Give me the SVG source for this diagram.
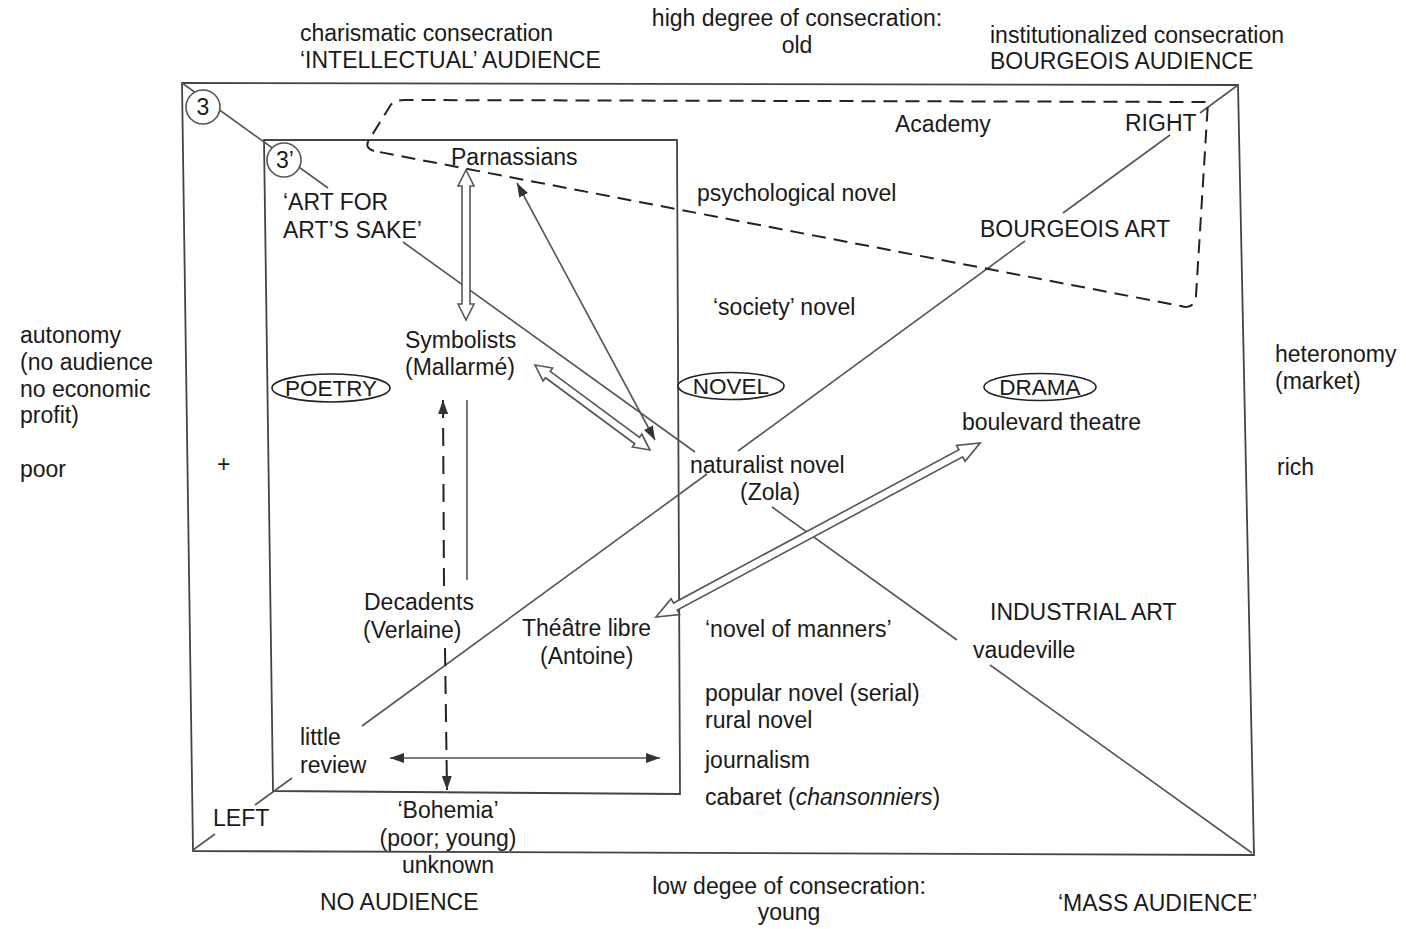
<svg xmlns="http://www.w3.org/2000/svg" width="1406" height="929" viewBox="0 0 1406 929">
<defs>
<style>
text{font-family:"Liberation Sans",Arial,sans-serif;font-size:23px;fill:#1a1a1a}
.m{text-anchor:middle}
.ov{font-size:22.5px}
.box{fill:none;stroke:#444;stroke-width:1.8}
.ln{fill:none;stroke:#555;stroke-width:1.6}
.dash{fill:none;stroke:#222;stroke-width:2;stroke-dasharray:14 8}
.vdash{fill:none;stroke:#222;stroke-width:2;stroke-dasharray:18 10}
.hollow{fill:#fff;stroke:#555;stroke-width:1.6;stroke-linejoin:miter}
.thin{fill:none;stroke:#555;stroke-width:1.6}
.oval{fill:#fff;stroke:#222;stroke-width:1.6}
.circ{fill:#fff;stroke:#555;stroke-width:1.6}
</style>
<marker id="ah" markerUnits="userSpaceOnUse" markerWidth="14" markerHeight="10" refX="14" refY="5" orient="auto-start-reverse">
<path d="M0,0 L14,5 L0,10 Z" fill="#333"/>
</marker>
</defs>
<rect width="1406" height="929" fill="#fff"/>

<g id="frames">
<polygon class="box" points="182,83 1238,85 1254,855 193,851"/>
<polygon class="box" points="264,140 677,140 680,794 273,791"/>
</g>

<g id="connectors">
<line class="ln" x1="182" y1="83" x2="328" y2="188"/>
<line class="ln" x1="403" y1="242" x2="695" y2="452"/>
<line class="ln" x1="772" y1="507" x2="957" y2="640"/>
<line class="ln" x1="990" y1="665" x2="1252" y2="853"/>
<line class="ln" x1="193" y1="850" x2="215" y2="834"/>
<line class="ln" x1="255" y1="805" x2="292" y2="778"/>
<line class="ln" x1="362" y1="726" x2="707" y2="474"/>
<line class="ln" x1="738" y1="451" x2="1025" y2="241"/>
<line class="ln" x1="1063" y1="213" x2="1170" y2="135"/>
<line class="ln" x1="1200" y1="113" x2="1238" y2="85"/>
<path class="dash" d="M374,151 Q364,148 369,140 L390,106 Q394,100 404,100 L1208,102 L1196,296 Q1194,310 1181,306 Z"/>
<polygon class="hollow" transform="translate(466,170) rotate(90)" points="0,0 16,-8 16,-4 134,-4 134,-8 150,0 134,8 134,4 16,4 16,8"/>
<polygon class="hollow" transform="translate(535,365) rotate(36.5)" points="0,0 16,-8 16,-4 127,-4 127,-8 143,0 127,8 127,4 16,4 16,8"/>
<polygon class="hollow" transform="translate(656,617) rotate(-28.24)" points="0,0 22,-9 22,-4 346,-4 346,-9 368,0 346,9 346,4 22,4 22,9"/>
<line class="thin" x1="517" y1="183" x2="655" y2="440" marker-start="url(#ah)" marker-end="url(#ah)"/>
<line class="thin" x1="467" y1="400" x2="467" y2="580"/>
<line class="vdash" x1="443" y1="400" x2="444" y2="588" marker-start="url(#ah)"/>
<line class="vdash" x1="445" y1="648" x2="447" y2="790" marker-end="url(#ah)"/>
<line class="thin" x1="390" y1="758" x2="660" y2="758" marker-start="url(#ah)" marker-end="url(#ah)"/>
</g>

<g id="n-circle3"><circle class="circ" cx="203" cy="107" r="17"/><text class="m" x="203" y="115">3</text></g>
<g id="n-circle3p"><circle class="circ" cx="284" cy="160" r="17"/><text class="m" x="285" y="168">3’</text></g>

<g id="n-top-left"><text x="300" y="41">charismatic consecration</text><text x="300" y="68">‘INTELLECTUAL’ AUDIENCE</text></g>
<g id="n-top-mid"><text class="m" x="797" y="26">high degree of consecration:</text><text class="m" x="797" y="53">old</text></g>
<g id="n-top-right"><text x="990" y="43">institutionalized consecration</text><text x="990" y="69">BOURGEOIS AUDIENCE</text></g>

<g id="n-autonomy"><text x="20" y="343">autonomy</text><text x="20" y="370">(no audience</text><text x="20" y="397">no economic</text><text x="20" y="423">profit)</text></g>
<g id="n-poor"><text x="20" y="477">poor</text></g>
<g id="n-plus"><text x="217" y="472">+</text></g>
<g id="n-heteronomy"><text x="1275" y="362">heteronomy</text><text x="1275" y="389">(market)</text></g>
<g id="n-rich"><text x="1277" y="475">rich</text></g>

<g id="n-no-audience"><text x="320" y="910">NO AUDIENCE</text></g>
<g id="n-low"><text class="m" x="789" y="894">low degee of consecration:</text><text class="m" x="789" y="920">young</text></g>
<g id="n-mass"><text x="1058" y="911">‘MASS AUDIENCE’</text></g>

<g id="n-academy"><text x="895" y="132">Academy</text></g>
<g id="n-right"><text x="1125" y="131">RIGHT</text></g>
<g id="n-parnassians"><text x="451" y="165">Parnassians</text></g>
<g id="n-artforart"><text x="283" y="210">‘ART FOR</text><text x="283" y="238">ART’S SAKE’</text></g>
<g id="n-psych"><text x="697" y="201">psychological novel</text></g>
<g id="n-bourgeois-art"><text x="980" y="237">BOURGEOIS ART</text></g>
<g id="n-society"><text x="713" y="315">‘society’ novel</text></g>
<g id="n-symbolists"><text x="405" y="348">Symbolists</text><text x="405" y="375">(Mallarmé)</text></g>
<g id="n-poetry"><ellipse class="oval" cx="331" cy="388" rx="59" ry="14"/><text class="m ov" x="331" y="396">POETRY</text></g>
<g id="n-novel"><ellipse class="oval" cx="731" cy="386" rx="53" ry="13.5"/><text class="m ov" x="731" y="394">NOVEL</text></g>
<g id="n-drama"><ellipse class="oval" cx="1040" cy="387" rx="56" ry="13.5"/><text class="m ov" x="1040" y="395">DRAMA</text></g>
<g id="n-boulevard"><text x="962" y="430">boulevard theatre</text></g>
<g id="n-naturalist"><text x="690" y="473">naturalist novel</text><text x="740" y="500">(Zola)</text></g>
<g id="n-industrial"><text x="990" y="620">INDUSTRIAL ART</text></g>
<g id="n-vaudeville"><text x="973" y="658">vaudeville</text></g>
<g id="n-manners"><text x="705" y="637">‘novel of manners’</text></g>
<g id="n-decadents"><text x="364" y="610">Decadents</text><text x="363" y="638">(Verlaine)</text></g>
<g id="n-theatre"><text x="522" y="636">Théâtre libre</text><text x="540" y="664">(Antoine)</text></g>
<g id="n-popular"><text x="705" y="701">popular novel (serial)</text><text x="705" y="728">rural novel</text></g>
<g id="n-journalism"><text x="705" y="768">journalism</text></g>
<g id="n-cabaret"><text x="705" y="805">cabaret (<tspan font-style="italic">chansonniers</tspan>)</text></g>
<g id="n-little"><text x="300" y="745">little</text><text x="300" y="773">review</text></g>
<g id="n-left"><text x="213" y="826">LEFT</text></g>
<g id="n-bohemia"><text class="m" x="448" y="818">‘Bohemia’</text><text class="m" x="448" y="846">(poor; young)</text><text class="m" x="448" y="873">unknown</text></g>
</svg>
